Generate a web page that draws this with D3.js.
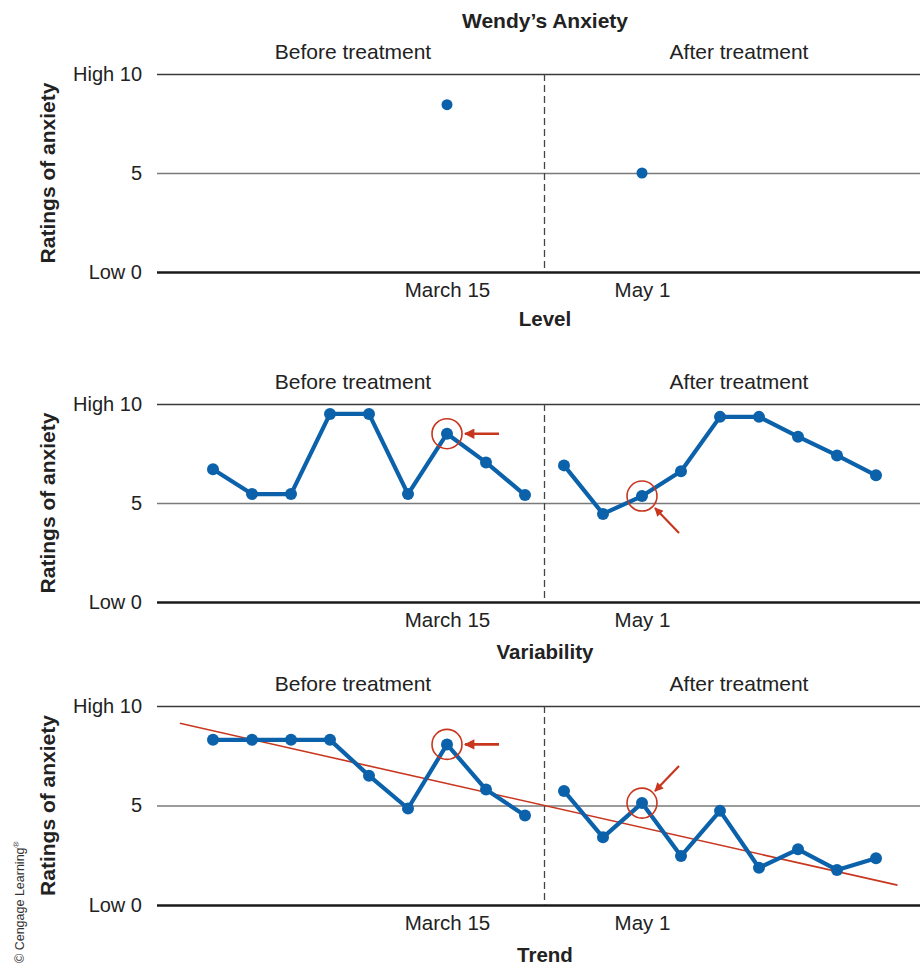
<!DOCTYPE html>
<html>
<head>
<meta charset="utf-8">
<script src="https://cdn.jsdelivr.net/npm/d3@7"></script>
<style>
  html, body { margin: 0; padding: 0; background: #fff; }
  svg { display: block; font-family: "Liberation Sans", Arial, Helvetica, sans-serif; }
</style>
</head>
<body>
<svg id="chart" width="920" height="966"></svg>
<script>
// ---------- data ----------
const chartTitle = "Wendy\u2019s Anxiety";
const phaseLabels = ["Before treatment", "After treatment"];
const tickValues = [0, 5, 10];
const tickLabels = ["Low 0", "5", "High 10"];
const dateSessions = [6, 11];
const dateLabels = ["March 15", "May 1"];
const yAxisTitle = "Ratings of anxiety";
const panelTitles = ["Level", "Variability", "Trend"];

const beforeSessions = [0, 1, 2, 3, 4, 5, 6, 7, 8];
const afterSessions = [9, 10, 11, 12, 13, 14, 15, 16, 17];
const phaseChangeAt = 8.5;

// Level panel
const levelSessions = [6, 11];
const levelValues = [8.45, 5.0];

// Variability panel
const variabilityBefore = [6.7, 5.45, 5.45, 9.5, 9.5, 5.45, 8.5, 7.05, 5.4];
const variabilityAfter = [6.9, 4.45, 5.35, 6.6, 9.35, 9.35, 8.35, 7.4, 6.4];

// Trend panel
const trendBefore = [8.3, 8.3, 8.3, 8.3, 6.5, 4.85, 8.07, 5.8, 4.5];
const trendAfter = [5.73, 3.4, 5.12, 2.46, 4.73, 1.87, 2.8, 1.76, 2.35];
const trendLineSessions = [-0.85, 17.55];
const trendLineValues = [9.13, 1.0];

// highlighted points (session index)
const highlightSessions = [6, 11];

// ---------- drawing ----------
const blue = "#0b62aa";
const red = "#c8361e";
const textColor = "#222";

const svg = d3.select("#chart");
const defs = svg.append("defs");
defs.append("marker")
  .attr("id", "arrowhead")
  .attr("viewBox", "0 0 10 10")
  .attr("refX", 9).attr("refY", 5)
  .attr("markerWidth", 4.4).attr("markerHeight", 4.0)
  .attr("markerUnits", "strokeWidth")
  .attr("orient", "auto")
  .append("path")
  .attr("d", "M0,0 L10,5 L0,10 Z")
  .attr("fill", red);

const xLeft = 157, xRight = 920;
const x = d3.scaleLinear().domain([0, 17]).range([213, 876]);

const panels = [
  { top: 74, bottom: 272, title: panelTitles[0], titleOffset: 54 },
  { top: 404, bottom: 602, title: panelTitles[1], titleOffset: 57 },
  { top: 706, bottom: 905, title: panelTitles[2], titleOffset: 57 }
];

// main title
svg.append("text")
  .attr("x", 545).attr("y", 28)
  .attr("text-anchor", "middle")
  .attr("font-size", 21).attr("font-weight", "bold")
  .attr("fill", textColor)
  .text(chartTitle);

panels.forEach((p, pi) => {
  const y = d3.scaleLinear().domain([0, 10]).range([p.bottom, p.top]);
  const g = svg.append("g");

  // phase labels
  g.selectAll(".phase").data(phaseLabels).join("text")
    .attr("x", (d, i) => i === 0 ? 353 : 739)
    .attr("y", p.top - 15)
    .attr("text-anchor", "middle")
    .attr("font-size", 21)
    .attr("fill", textColor)
    .text(d => d);

  // y axis with gridlines
  const yAxis = d3.axisLeft(y)
    .tickValues(tickValues)
    .tickFormat((d, i) => tickLabels[i])
    .tickSize(-(xRight - xLeft))
    .tickPadding(15);
  const ya = g.append("g").attr("transform", `translate(${xLeft},0)`).call(yAxis);
  ya.select(".domain").remove();
  ya.selectAll(".tick line")
    .attr("stroke", d => d === 0 ? "#1a1a1a" : (d === 5 ? "#7a7a7a" : "#3a3a3a"))
    .attr("stroke-width", d => d === 0 ? 2.6 : 1.3);
  ya.selectAll(".tick text")
    .attr("font-size", 20)
    .attr("fill", textColor)
    .style("font-family", "inherit");

  // phase-change dashed line
  g.append("line")
    .attr("x1", x(phaseChangeAt)).attr("x2", x(phaseChangeAt))
    .attr("y1", y(10)).attr("y2", y(0))
    .attr("stroke", "#444").attr("stroke-width", 1.3)
    .attr("stroke-dasharray", "7,4");

  // x axis date labels
  const xAxis = d3.axisBottom(x)
    .tickValues(dateSessions)
    .tickFormat((d, i) => dateLabels[i])
    .tickSize(0)
    .tickPadding(10);
  const xa = g.append("g").attr("transform", `translate(0,${p.bottom})`).call(xAxis);
  xa.select(".domain").remove();
  xa.selectAll(".tick text")
    .attr("font-size", 20.5)
    .attr("fill", textColor)
    .style("font-family", "inherit");

  // panel title
  g.append("text")
    .attr("x", 545).attr("y", p.bottom + p.titleOffset)
    .attr("text-anchor", "middle")
    .attr("font-size", 20.5).attr("font-weight", "bold")
    .attr("fill", textColor)
    .text(p.title);

  // y axis title
  g.append("text")
    .attr("transform", `translate(55,${(p.top + p.bottom) / 2}) rotate(-90)`)
    .attr("text-anchor", "middle")
    .attr("font-size", 21).attr("font-weight", "bold")
    .attr("fill", textColor)
    .text(yAxisTitle);

  const line = d3.line().x(d => x(d[0])).y(d => y(d[1]));

  if (pi === 0) {
    g.selectAll(".dot").data(levelSessions.map((s, i) => [s, levelValues[i]])).join("circle")
      .attr("cx", d => x(d[0])).attr("cy", d => y(d[1]))
      .attr("r", 5.5).attr("fill", blue);
    return;
  }

  let before, after;
  if (pi === 1) { before = variabilityBefore; after = variabilityAfter; }
  else { before = trendBefore; after = trendAfter; }

  if (pi === 2) {
    g.append("path")
      .datum(trendLineSessions.map((s, i) => [s, trendLineValues[i]]))
      .attr("d", line)
      .attr("fill", "none").attr("stroke", red).attr("stroke-width", 1.6);
  }

  const segs = [
    beforeSessions.map((s, i) => [s, before[i]]),
    afterSessions.map((s, i) => [s, after[i]])
  ];
  segs.forEach(seg => {
    g.append("path").datum(seg).attr("d", line)
      .attr("fill", "none").attr("stroke", blue)
      .attr("stroke-width", 4.2).attr("stroke-linejoin", "round");
    g.selectAll(null).data(seg).join("circle")
      .attr("cx", d => x(d[0])).attr("cy", d => y(d[1]))
      .attr("r", 6).attr("fill", blue);
  });

  // highlight circles & arrows
  const hb = [highlightSessions[0], before[beforeSessions.indexOf(highlightSessions[0])]];
  const ha = [highlightSessions[1], after[afterSessions.indexOf(highlightSessions[1])]];
  [hb, ha].forEach(h => {
    g.append("circle")
      .attr("cx", x(h[0])).attr("cy", y(h[1]))
      .attr("r", 15).attr("fill", "none")
      .attr("stroke", red).attr("stroke-width", 1.6);
  });
  // left-pointing arrow to "before" highlight
  const bx = x(hb[0]), by = y(hb[1]);
  g.append("line")
    .attr("x1", bx + 52).attr("y1", by)
    .attr("x2", bx + 18).attr("y2", by)
    .attr("stroke", red).attr("stroke-width", 2.6)
    .attr("marker-end", "url(#arrowhead)");
  // diagonal arrow to "after" highlight
  const ax = x(ha[0]), ay = y(ha[1]);
  const dirY = pi === 1 ? 1 : -1;
  g.append("line")
    .attr("x1", ax + 37).attr("y1", ay + dirY * 37)
    .attr("x2", ax + 13).attr("y2", ay + dirY * 12)
    .attr("stroke", red).attr("stroke-width", 2.2)
    .attr("marker-end", "url(#arrowhead)");
});

// copyright
const cr = svg.append("text")
  .attr("transform", "translate(24,963) rotate(-90)")
  .attr("font-size", 12.5)
  .attr("fill", "#333");
cr.append("tspan").text("\u00A9 Cengage Learning");
cr.append("tspan").attr("font-size", 8).attr("dy", -5).text("\u00AE");
</script>
</body>
</html>
